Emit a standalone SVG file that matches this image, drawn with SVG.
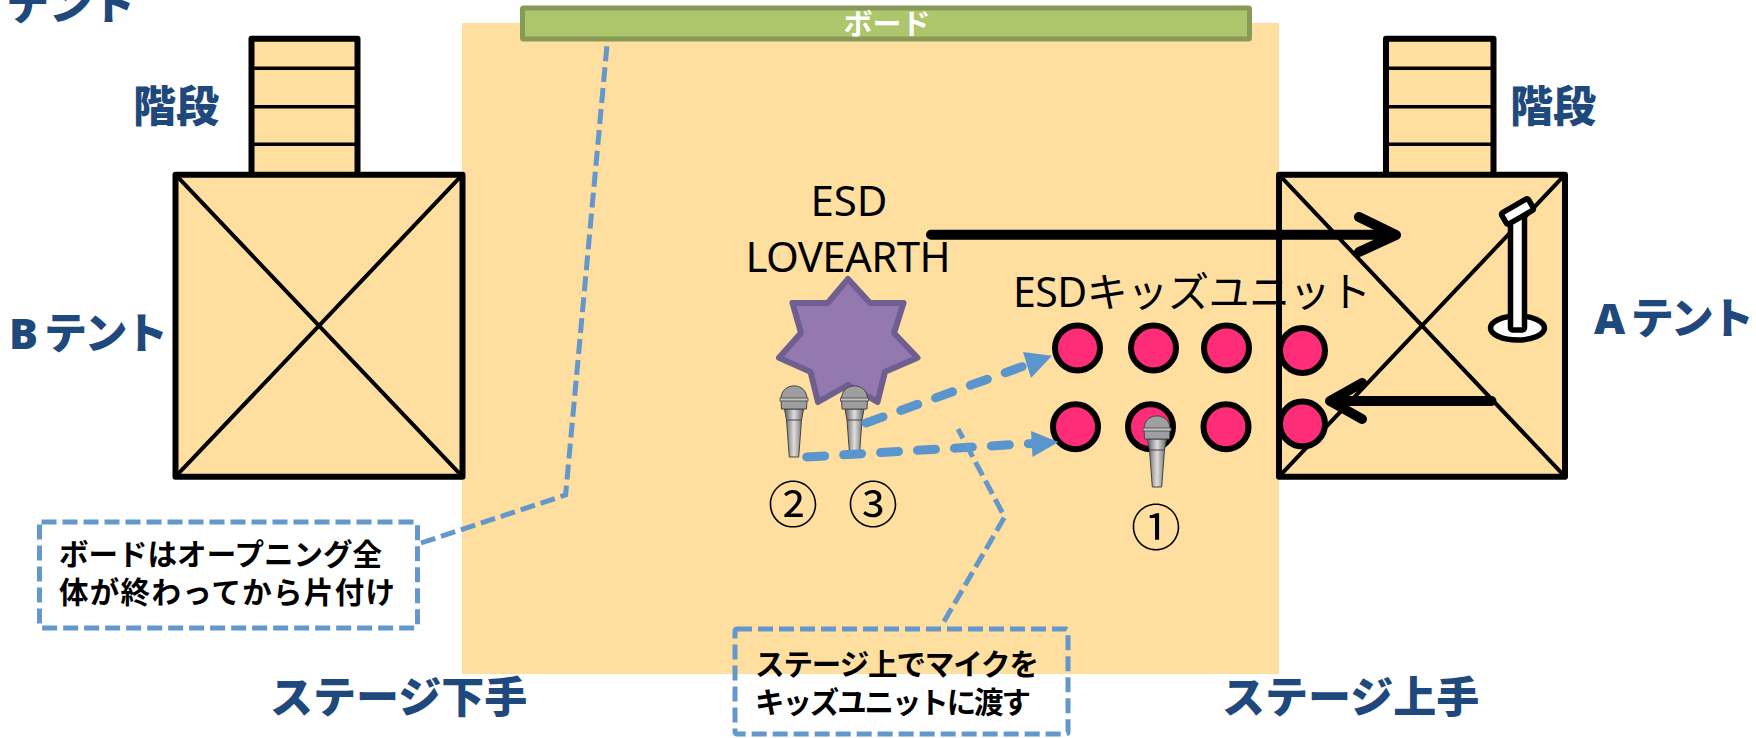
<svg xmlns="http://www.w3.org/2000/svg" xmlns:xlink="http://www.w3.org/1999/xlink" width="1756" height="738" viewBox="0 0 1756 738">
<style>
text{font-family:"Noto Sans","Noto Sans CJK JP",sans-serif}
.lb{font-size:43px;font-weight:900;fill:#1F497D}
.bk{font-size:42px;fill:#000;text-anchor:middle}
.ci{font-size:50px;fill:#000;text-anchor:middle}
.nt{font-size:29.500px;font-weight:700;fill:#000}
.box{fill:#FFDF9F;stroke:#000;stroke-width:6;stroke-linejoin:round}
.thin{stroke:#000;stroke-width:4;fill:none}
.rung{stroke:#000;stroke-width:3.500;fill:none}
.p{fill:#FF2D78;stroke:#000;stroke-width:6}
.call{stroke:#6497CB;stroke-width:5;stroke-dasharray:15 6;fill:none}
.flow{stroke:#5B95CD;stroke-width:9;stroke-dasharray:18 19;stroke-linecap:round;fill:none}
.head{fill:#5B95CD}
.blk{stroke:#000;stroke-width:10;stroke-linecap:round;stroke-linejoin:round;fill:none}
</style>
<defs>
<linearGradient id="metal" x1="0" x2="1" y1="0" y2="0"><stop offset="0" stop-color="#5e5e5e"/><stop offset=".5" stop-color="#dedede"/><stop offset="1" stop-color="#666"/></linearGradient>
<g id="mic">
<path d="M-9.500,23 L9.500,23 L7.500,34 L4.700,71 L-4.700,71 L-7.500,34 Z" fill="url(#metal)" stroke="#444" stroke-width="1"/>
<path d="M-7.500,34 H7.500" stroke="#444" stroke-width="1"/>
<path d="M-13,13 C-13,-4.500 13,-4.500 13,13 L12.500,23 H-12.500 Z" fill="#9F9F9F" stroke="#444" stroke-width="1"/>
<rect x="-14" y="12" width="28" height="3" fill="#C4C4C4" stroke="#444" stroke-width=".8"/>
</g>
</defs>
<rect id="stage" x="462" y="23" width="817" height="651" fill="#FFDF9F"/>
<g id="stairs-b"><rect class="box" x="251.500" y="38.700" width="106" height="137"/><path class="rung" d="M251.500,68.300H357.500M251.500,106.700H357.500M251.500,144.300H357.500"/></g>
<g id="tent-b"><rect class="box" x="175.500" y="174.700" width="287" height="302"/><path class="thin" d="M175.500,174.700L462.500,476.700M462.500,174.700L175.500,476.700"/></g>
<g id="stairs-a"><rect class="box" x="1386" y="38.700" width="107.500" height="137"/><path class="rung" d="M1386,68.300H1493.500M1386,106.700H1493.500M1386,144.300H1493.500"/></g>
<g id="tent-a"><rect class="box" x="1279" y="174.700" width="286" height="302"/><path class="thin" d="M1279,174.700L1565,476.700M1565,174.700L1279,476.700"/></g>
<g id="board"><rect x="522.500" y="8" width="727" height="31" rx="1" fill="#ADC56B" stroke="#879A57" stroke-width="5"/><text x="887" y="35" font-size="29" font-weight="700" fill="#fff" text-anchor="middle">ボード</text></g>
<g id="mic-stand">
<ellipse cx="1517.500" cy="328" rx="27" ry="12" fill="#fff" stroke="#000" stroke-width="5.500"/>
<rect x="1510.500" y="215" width="14" height="115" rx="2" fill="#fff" stroke="#000" stroke-width="5.500"/>
<rect x="1502" y="205" width="31" height="13" rx="2" fill="#fff" stroke="#000" stroke-width="5.500" transform="rotate(-30 1517.500 211.500)"/>
</g>
<g id="lovearth"><text class="bk" x="849" y="216">ESD</text><text class="bk" x="848" y="272" textLength="205">LOVEARTH</text>
<polygon points="848,279 870,303 903.500,303 894,333 917.500,357.700 885,371.700 877.500,402 848,385 818,402 810.500,371.700 779,357.700 801,333 792.500,303 827.700,303" fill="#9479B0" stroke="#6F5F90" stroke-width="6" stroke-linejoin="round"/></g>
<g id="kids"><text x="1013" y="307" font-size="41" fill="#000" textLength="358">ESDキッズユニット</text>
<ellipse class="p" cx="1077.500" cy="348" rx="22.500" ry="22.500"/><ellipse class="p" cx="1153.500" cy="348" rx="22.500" ry="22.500"/><ellipse class="p" cx="1226.500" cy="348" rx="22.500" ry="22.500"/><ellipse class="p" cx="1302.500" cy="350.500" rx="22.500" ry="22.500"/>
<ellipse class="p" cx="1075.500" cy="426.700" rx="22.500" ry="22.500"/><ellipse class="p" cx="1150.500" cy="426.700" rx="22.500" ry="22.500"/><ellipse class="p" cx="1226" cy="426.700" rx="22.500" ry="22.500"/><ellipse class="p" cx="1302.500" cy="424" rx="22.500" ry="22.500"/></g>
<g id="mic-2"><use xlink:href="#mic" href="#mic" x="794" y="386"/></g>
<g id="mic-3"><use xlink:href="#mic" href="#mic" x="854.500" y="386"/></g>
<g id="connectors">
<path class="blk" d="M931,234.700H1394M1359,217L1396,235L1359,252"/>
<path class="blk" d="M1491.500,401H1333M1362,383L1330,401L1362,419"/>
<path class="flow" d="M866,423L1035,362"/><polygon class="head" points="1052,355.700 1023,352 1031,378"/>
<path class="flow" d="M806.700,457L1040,443"/><polygon class="head" points="1058.500,442 1031,431 1032.500,457"/>
<path class="call" d="M421,543L565.600,495L607,45"/>
<path class="call" d="M944,621.600L1004.600,517L958,429"/>
</g>
<g id="mic-1"><use xlink:href="#mic" href="#mic" x="1157" y="416"/></g>
<g id="nums"><text class="ci" x="793" y="523">②</text><text class="ci" x="873" y="523">③</text><text class="ci" x="1156" y="546">①</text></g>
<g id="note-board"><rect x="39.500" y="522" width="378" height="106" rx="2" fill="#fff" stroke="#6497CB" stroke-width="5" stroke-dasharray="15 6"/><text class="nt" x="59" y="565" textLength="323">ボードはオープニング全</text><text class="nt" x="59" y="603" textLength="336">体が終わってから片付け</text></g>
<g id="note-mic"><rect class="call" x="735" y="629" width="333" height="105" rx="2"/><text class="nt" x="755" y="675" textLength="284">ステージ上でマイクを</text><text class="nt" x="755" y="713" textLength="276">キッズユニットに渡す</text></g>
<g id="labels">
<text class="lb" x="6" y="20">テント</text>
<text class="lb" x="133" y="122">階段</text>
<text class="lb" x="1510" y="122">階段</text>
<text class="lb" x="9" y="349" textLength="159">B テント</text>
<text class="lb" x="1594" y="334" textLength="160">A テント</text>
<text class="lb" x="270" y="713">ステージ下手</text>
<text class="lb" x="1222" y="713">ステージ上手</text>
</g>
</svg>
